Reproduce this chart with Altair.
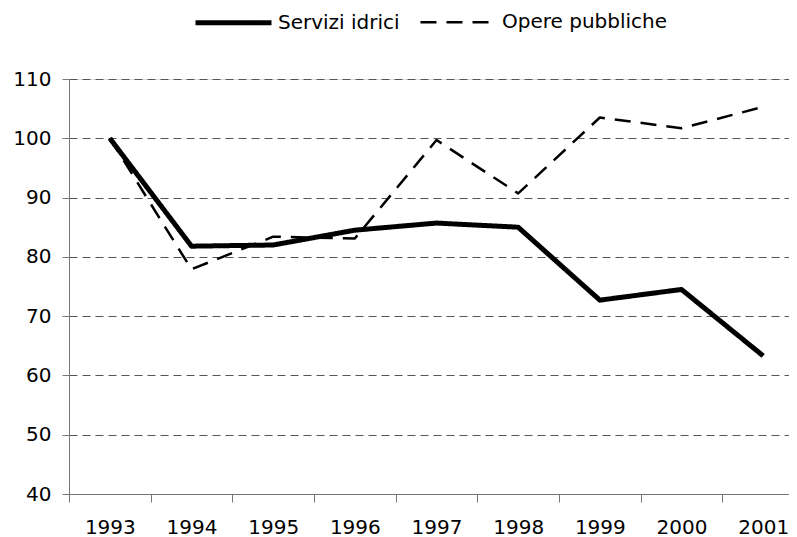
import altair as alt
import pandas as pd

years = ["1993", "1994", "1995", "1996", "1997", "1998", "1999", "2000", "2001"]
servizi = [100.0, 81.8, 82.0, 84.5, 85.7, 85.0, 72.7, 74.5, 63.3]
opere = [100.0, 77.9, 83.4, 83.1, 99.7, 90.7, 103.5, 101.7, 105.3]
series = ["Servizi idrici", "Opere pubbliche"]
y_ticks = [40, 50, 60, 70, 80, 90, 100, 110]

rows = []
for name, vals in zip(series, [servizi, opere]):
    for yr, v in zip(years, vals):
        rows.append({"anno": yr, "valore": v, "serie": name})
df = pd.DataFrame(rows)

FONT = "DejaVu Sans"

def make_legend():
    return alt.Legend(title=None, orient="none", direction="horizontal",
                      legendX=124, legendY=-97,
                      symbolType="stroke", symbolSize=5776,
                      symbolStrokeColor="black",
                      labelFontSize=20, labelFont=FONT, labelLimit=400,
                      labelColor="black", labelOffset=4,
                      columnPadding=15)

chart = alt.Chart(df).mark_line(strokeJoin="round", color="black").encode(
    x=alt.X("anno:O",
            scale=alt.Scale(type="band", paddingInner=0, paddingOuter=0, range=[0, 735]),
            axis=alt.Axis(title=None, labelAngle=0, tickBand="extent", grid=False,
                          tickSize=8, labelPadding=15, domainColor="#777777",
                          tickColor="#777777", labelFontSize=20, labelFont=FONT,
                          labelColor="black")),
    y=alt.Y("valore:Q",
            scale=alt.Scale(domain=[40, 110], nice=False, zero=False),
            axis=alt.Axis(title=None, values=y_ticks, grid=True, gridDash=[8, 5],
                          gridColor="#555555", gridWidth=1, tickSize=7,
                          tickColor="#777777", domainColor="#777777",
                          labelPadding=11, labelFontSize=20, labelFont=FONT,
                          labelColor="black")),
    strokeDash=alt.StrokeDash("serie:N",
                              scale=alt.Scale(domain=series, range=[[1, 0], [16, 10]]),
                              sort=series, legend=make_legend()),
    strokeWidth=alt.StrokeWidth("serie:N",
                                scale=alt.Scale(domain=series, range=[5, 2.5]),
                                sort=series, legend=make_legend()),
).properties(
    width=720,
    height=415,
    autosize=alt.AutoSizeParams(type="none"),
    padding={"left": 61, "top": 71, "right": 0, "bottom": 43},
).configure_view(stroke=None).configure(background="white")

chart.save("out.html", embed_options={"renderer": "svg", "actions": False})
